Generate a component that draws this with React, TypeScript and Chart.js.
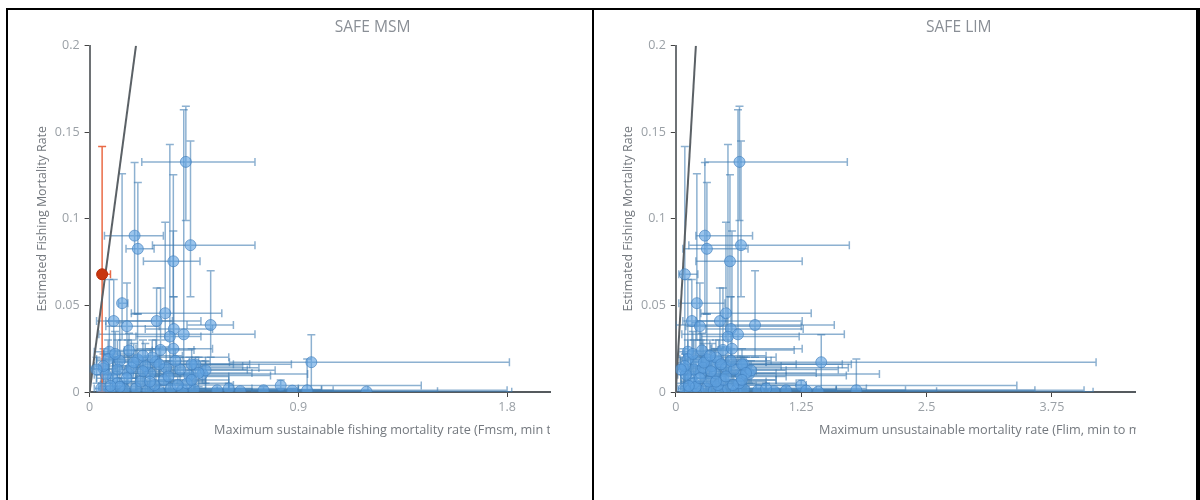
import { useEffect, useRef } from 'react';
import { Chart, registerables } from 'chart.js';
Chart.register(...registerables);
Chart.defaults.font.family = '"Open Sans", sans-serif';

// ---------- data ----------
const yTicks = [0, 0.05, 0.1, 0.15, 0.2];
const msmTicks = [0, 0.9, 1.8];
const limTicks = [0, 1.25, 2.5, 3.75];

// estimated fishing mortality (y) with min / max
const fEst = [0.1329, 0.0848, 0.0903, 0.0827, 0.0755, 0.068, 0.0513, 0.041, 0.038, 0.041, 0.0455, 0.0364, 0.032, 0.0333, 0.0387, 0.0243, 0.025, 0.0233, 0.0189, 0.018, 0.0175, 0.016, 0.0172, 0.0104, 0.0108, 0.0108, 0.0095, 0.0037, 0.0008, 0.001, 0.0002, 0.0135, 0.019, 0.008, 0.013, 0.014, 0.015, 0.014, 0.013, 0.016, 0.002, 0.001, 0.0015, 0.002, 0.001, 0.0005, 0.002, 0.001, 0.0015, 0.001, 0.0005, 0.005, 0.006, 0.004, 0.007, 0.005, 0.01, 0.018, 0.0125, 0.02, 0.022, 0.017, 0.012, 0.009, 0.006, 0.015, 0.003, 0.024, 0.011, 0.004, 0.016, 0.008, 0.013, 0.002, 0.001, 0.021, 0.0035, 0.007];
const fEstLo = [0.099, 0.055, 0.045, 0.045, 0.055, 0, 0.03, 0.02, 0.02, 0.025, 0.03, 0.02, 0, 0.01, 0.02, 0.01, 0.005, 0.01, 0, 0.005, 0, 0, 0, 0.005, 0, 0, 0, 0.002, 0, 0, 0, 0, 0.005, 0, 0, 0, 0, 0, 0.005, 0.008, 0, 0, 0, 0, 0, 0, 0, 0, 0, 0, 0, 0, 0, 0, 0, 0, 0, 0.01, 0.005, 0.01, 0.012, 0.008, 0.004, 0, 0, 0.006, 0, 0.015, 0.003, 0, 0.009, 0.002, 0.005, 0, 0, 0.01, 0, 0];
const fEstHi = [0.165, 0.145, 0.1325, 0.121, 0.1254, 0.1418, 0.126, 0.065, 0.063, 0.06, 0.098, 0.055, 0.143, 0.163, 0.07, 0.06, 0.093, 0.065, 0.045, 0.04, 0.03, 0.02, 0.033, 0.015, 0.025, 0.03, 0.02, 0.007, 0.002, 0.019, 0.001, 0.025, 0.03, 0.02, 0.03, 0.03, 0.028, 0.026, 0.02, 0.025, 0.01, 0.008, 0.006, 0.005, 0.006, 0.004, 0.006, 0.004, 0.003, 0.002, 0.002, 0.012, 0.015, 0.01, 0.014, 0.01, 0.022, 0.025, 0.018, 0.03, 0.035, 0.028, 0.02, 0.018, 0.012, 0.022, 0.008, 0.034, 0.02, 0.009, 0.026, 0.015, 0.02, 0.005, 0.003, 0.03, 0.01, 0.016];

// maximum sustainable fishing mortality (Fmsm) with min / max
const fmsm = [0.415, 0.435, 0.194, 0.208, 0.361, 0.054, 0.14, 0.104, 0.161, 0.289, 0.326, 0.363, 0.346, 0.406, 0.522, 0.306, 0.361, 0.085, 0.207, 0.13, 0.286, 0.456, 0.956, 0.486, 0.261, 0.165, 0.43, 0.824, 0.874, 0.938, 1.194, 0.06, 0.08, 0.1, 0.12, 0.18, 0.24, 0.33, 0.39, 0.44, 0.05, 0.09, 0.15, 0.2, 0.25, 0.3, 0.35, 0.4, 0.45, 0.55, 0.65, 0.12, 0.22, 0.28, 0.32, 0.42, 0.07, 0.37, 0.5, 0.27, 0.11, 0.19, 0.23, 0.34, 0.26, 0.06, 0.13, 0.17, 0.47, 0.38, 0.3, 0.16, 0.03, 0.6, 0.75, 0.23, 0.09, 0.44];
const fmsmLo = [0.225, 0.271, 0.064, 0.157, 0.232, 0.04, 0.125, 0.03, 0.07, 0.07, 0.18, 0.24, 0.2, 0.04, 0.42, 0.15, 0.2, 0.02, 0.06, 0.03, 0.1, 0.3, 0.603, 0.3, 0.1, 0.05, 0.2, 0.6, 0.5, 0.9, 0.7, 0, 0.03, 0.03, 0.05, 0.1, 0.1, 0.2, 0.25, 0.3, 0.02, 0.04, 0.05, 0.1, 0.12, 0.15, 0.2, 0.25, 0.3, 0.35, 0.4, 0.05, 0.1, 0.15, 0.2, 0.3, 0.02, 0.25, 0.35, 0.1, 0.06, 0.1, 0.15, 0.2, 0.15, 0.02, 0.05, 0.08, 0.33, 0.25, 0.2, 0.1, 0.01, 0.45, 0.55, 0.12, 0.04, 0.3];
const fmsmHi = [0.713, 0.713, 0.318, 0.278, 0.476, 0.09, 0.165, 0.357, 0.3, 0.48, 0.57, 0.53, 0.48, 0.713, 0.62, 0.45, 0.53, 0.15, 0.3, 0.25, 0.52, 0.87, 1.81, 0.94, 0.44, 0.3, 0.78, 1.43, 1.2, 1.8, 1.82, 0.12, 0.15, 0.2, 0.25, 0.28, 0.66, 0.73, 0.68, 0.69, 0.1, 0.2, 0.4, 0.5, 0.6, 0.55, 0.7, 0.9, 1.0, 1.05, 1.5, 0.3, 0.35, 0.45, 0.5, 0.6, 0.18, 0.5, 0.8, 0.6, 0.2, 0.3, 0.38, 0.6, 0.5, 0.14, 0.3, 0.27, 0.7, 0.62, 0.62, 0.24, 0.08, 0.9, 1.0, 0.4, 0.16, 0.6];

// maximum unsustainable mortality (Flim) with min / max
const flim = [0.635, 0.65, 0.29, 0.31, 0.54, 0.09, 0.21, 0.16, 0.24, 0.44, 0.5, 0.55, 0.52, 0.62, 0.79, 0.47, 0.56, 0.12, 0.31, 0.2, 0.43, 0.68, 1.45, 0.73, 0.39, 0.25, 0.65, 1.25, 1.3, 1.8, 1.42, 0.08, 0.12, 0.15, 0.18, 0.27, 0.36, 0.5, 0.58, 0.66, 0.08, 0.14, 0.22, 0.3, 0.38, 0.45, 0.52, 0.6, 0.68, 0.82, 0.98, 0.18, 0.33, 0.42, 0.48, 0.63, 0.1, 0.55, 0.75, 0.4, 0.17, 0.28, 0.35, 0.5, 0.4, 0.09, 0.2, 0.26, 0.7, 0.57, 0.45, 0.24, 0.05, 0.9, 1.1, 0.34, 0.13, 0.66];
const flimLo = [0.29, 0.13, 0.2, 0.07, 0.2, 0.03, 0.03, 0.07, 0.1, 0.2, 0.25, 0.3, 0.25, 0.06, 0, 0.3, 0.35, 0.03, 0.09, 0.05, 0.15, 0.45, 0.9, 0.45, 0.15, 0.08, 0.3, 0.8, 0.7, 1.4, 0.9, 0, 0.04, 0.05, 0.07, 0.15, 0.15, 0.3, 0.35, 0.4, 0.02, 0.05, 0.07, 0.1, 0.15, 0.2, 0.25, 0.3, 0.4, 0.5, 0.6, 0.06, 0.12, 0.2, 0.25, 0.4, 0.02, 0.35, 0.5, 0.12, 0.08, 0.15, 0.2, 0.3, 0.2, 0.03, 0.08, 0.12, 0.5, 0.35, 0.25, 0.12, 0.01, 0.6, 0.8, 0.2, 0.05, 0.45];
const flimHi = [1.71, 1.73, 0.765, 0.72, 1.26, 0.22, 0.49, 0.51, 1.25, 1.26, 1.35, 1.27, 1.23, 1.68, 1.58, 1.18, 1.26, 0.38, 0.64, 0.5, 0.9, 1.75, 4.19, 2.03, 1.0, 0.6, 1.7, 3.4, 1.6, 4.07, 4.16, 0.25, 0.3, 0.4, 0.5, 0.55, 1.05, 1.72, 1.62, 1.66, 0.2, 0.35, 0.7, 0.9, 1.1, 1.0, 1.3, 2.29, 1.6, 3.58, 2.6, 0.45, 0.7, 0.9, 1.0, 1.2, 0.3, 0.95, 1.1, 1.0, 0.35, 0.6, 0.8, 1.1, 0.9, 0.3, 0.6, 0.55, 1.4, 1.3, 1.2, 0.5, 0.15, 1.9, 1.6, 0.9, 0.4, 1.0];

// highlighted stock in the MSM panel
const msmHighlight = 5;

// reference line F = Fref
const refLineX = [0, 0.2];
const refLineY = [0, 0.2];

// ---------- panels ----------
type Panel = {
  title: string;
  xTitle: string;
  x: number[];
  xLo: number[];
  xHi: number[];
  xMax: number;
  xTicks: number[];
  highlight: number | null;
  yAxisWidth: number;
  padRight: number;
  xTitleOffset: number;
};

const panels: Panel[] = [
  {
    title: 'SAFE MSM',
    xTitle: 'Maximum sustainable fishing mortality rate (Fmsm, min to max)',
    x: fmsm, xLo: fmsmLo, xHi: fmsmHi,
    xMax: 1.985, xTicks: msmTicks, highlight: msmHighlight,
    yAxisWidth: 89.6, padRight: 43, xTitleOffset: 124.4,
  },
  {
    title: 'SAFE LIM',
    xTitle: 'Maximum unsustainable mortality rate (Flim, min to max)',
    x: flim, xLo: flimLo, xHi: flimHi,
    xMax: 4.586, xTicks: limTicks, highlight: null,
    yAxisWidth: 82.8, padRight: 64.2, xTitleOffset: 143.2,
  },
];

const BLUE_BAR = 'rgba(65,125,178,0.6)';
const RED_BAR = 'rgba(232,98,60,0.95)';

function makePlugin(p: Panel) {
  return {
    id: 'errorBarsAndTitles',
    beforeDatasetsDraw(chart: any) {
      const { ctx, chartArea: a, scales } = chart;
      const xs = scales.x, ys = scales.y;
      ctx.save();
      ctx.beginPath();
      ctx.rect(a.left, a.top - 1, a.right - a.left + 1, a.bottom - a.top + 1);
      ctx.clip();
      ctx.lineWidth = 1.5;
      const cap = 4;
      const order = fEst.map((_, i) => i).filter((i) => i !== p.highlight);
      if (p.highlight !== null) order.push(p.highlight);
      for (const i of order) {
        ctx.strokeStyle = i === p.highlight ? RED_BAR : BLUE_BAR;
        const px = xs.getPixelForValue(p.x[i]);
        const py = ys.getPixelForValue(fEst[i]);
        const x0 = xs.getPixelForValue(p.xLo[i]);
        const x1 = xs.getPixelForValue(p.xHi[i]);
        const y0 = ys.getPixelForValue(fEstLo[i]);
        const y1 = ys.getPixelForValue(fEstHi[i]);
        ctx.beginPath();
        ctx.moveTo(x0, py); ctx.lineTo(x1, py);
        ctx.moveTo(x0, py - cap); ctx.lineTo(x0, py + cap);
        ctx.moveTo(x1, py - cap); ctx.lineTo(x1, py + cap);
        ctx.moveTo(px, y0); ctx.lineTo(px, y1);
        ctx.moveTo(px - cap, y0); ctx.lineTo(px + cap, y0);
        ctx.moveTo(px - cap, y1); ctx.lineTo(px + cap, y1);
        ctx.stroke();
      }
      ctx.restore();
    },
    afterDraw(chart: any) {
      const { ctx, chartArea: a } = chart;
      ctx.save();
      // panel title
      ctx.fillStyle = '#8a8f96';
      ctx.font = '15.6px "Open Sans", sans-serif';
      ctx.textAlign = 'center';
      ctx.textBaseline = 'middle';
      ctx.fillText(p.title, a.left + 283, 28);
      // y title
      ctx.fillStyle = '#73787e';
      ctx.font = '12.4px "Open Sans", sans-serif';
      ctx.save();
      ctx.translate(a.left - 47.5, (a.top + a.bottom) / 2);
      ctx.rotate(-Math.PI / 2);
      ctx.fillText('Estimated Fishing Mortality Rate', 0, 0);
      ctx.restore();
      // x title (clipped at the plot's right edge)
      ctx.font = '12.7px "Open Sans", sans-serif';
      ctx.beginPath();
      ctx.rect(0, a.bottom + 20, a.right, 40);
      ctx.clip();
      ctx.textAlign = 'left';
      ctx.fillText(p.xTitle, a.left + p.xTitleOffset, 430);
      ctx.restore();
    },
  };
}

function buildChart(canvas: HTMLCanvasElement, p: Panel) {
  const blue = fEst.map((_, i) => i).filter((i) => i !== p.highlight);
  const datasets: any[] = [
    {
      label: 'Reference',
      data: refLineX.map((v, i) => ({ x: v, y: refLineY[i] })),
      showLine: true,
      borderColor: '#5b6166',
      borderWidth: 2,
      pointRadius: 0,
      order: 3,
      clip: 0,
    },
    {
      label: 'Stocks',
      data: blue.map((i) => ({ x: p.x[i], y: fEst[i] })),
      backgroundColor: 'rgba(95,162,224,0.62)',
      borderColor: 'rgba(65,128,190,0.65)',
      borderWidth: 1,
      pointRadius: 5.5,
      order: 2,
      clip: 0,
    },
  ];
  if (p.highlight !== null) {
    const h = p.highlight;
    datasets.push({
      label: 'Selected',
      data: [{ x: p.x[h], y: fEst[h] }],
      backgroundColor: 'rgb(200,55,15)',
      borderColor: 'rgb(185,45,10)',
      borderWidth: 1,
      pointRadius: 5.5,
      order: 1,
      clip: 0,
    });
  }
  const tickFont = { size: 12.5, family: '"Open Sans", sans-serif' };
  return new Chart(canvas, {
    type: 'scatter',
    data: { datasets },
    plugins: [makePlugin(p)],
    options: {
      animation: false,
      responsive: false,
      maintainAspectRatio: false,
      events: [],
      layout: { padding: { left: 0, top: 45.7, right: p.padRight, bottom: 0 } },
      plugins: { legend: { display: false }, tooltip: { enabled: false }, title: { display: false } },
      scales: {
        x: {
          type: 'linear',
          min: 0,
          max: p.xMax,
          afterFit: (s: any) => { s.height = 108; },
          afterBuildTicks: (s: any) => { s.ticks = p.xTicks.map((v) => ({ value: v })); },
          ticks: { autoSkip: false, maxRotation: 0, padding: 3, color: '#9aa0a6', font: tickFont, callback: (v: any) => String(v) },
          grid: { display: true, drawOnChartArea: false, drawTicks: true, tickLength: 5, tickColor: '#444', tickWidth: 1 },
          border: { display: true, color: '#555a5e', width: 2 },
        },
        y: {
          type: 'linear',
          min: 0,
          max: 0.2,
          afterFit: (s: any) => { s.width = p.yAxisWidth; },
          afterBuildTicks: (s: any) => { s.ticks = yTicks.map((v) => ({ value: v })); },
          ticks: { autoSkip: false, padding: 5, color: '#9aa0a6', font: tickFont, callback: (v: any) => String(v) },
          grid: { display: true, drawOnChartArea: false, drawTicks: true, tickLength: 5, tickColor: '#444', tickWidth: 1 },
          border: { display: true, color: '#6e7275', width: 2 },
        },
      },
    } as any,
  });
}

export default function App() {
  const leftRef = useRef<HTMLCanvasElement>(null);
  const rightRef = useRef<HTMLCanvasElement>(null);
  useEffect(() => {
    const charts = [buildChart(leftRef.current!, panels[0]), buildChart(rightRef.current!, panels[1])];
    return () => charts.forEach((c) => c.destroy());
  }, []);
  const line = (style: any) => (
    <div style={{ position: 'absolute', background: '#000', pointerEvents: 'none', ...style }} />
  );
  return (
    <div style={{ position: 'fixed', left: 0, top: 0, width: 1200, height: 500, overflow: 'hidden', background: '#fff' }}>
      <canvas ref={leftRef} width={593} height={500} style={{ position: 'absolute', left: 0, top: 0, width: 593, height: 500 }} />
      <canvas ref={rightRef} width={607} height={500} style={{ position: 'absolute', left: 593, top: 0, width: 607, height: 500 }} />
      {line({ left: 6, top: 8, width: 1194, height: 2 })}
      {line({ left: 6, top: 8, width: 2, height: 492 })}
      {line({ left: 592, top: 8, width: 2, height: 492 })}
      {line({ left: 1196, top: 8, width: 4, height: 492 })}
    </div>
  );
}
